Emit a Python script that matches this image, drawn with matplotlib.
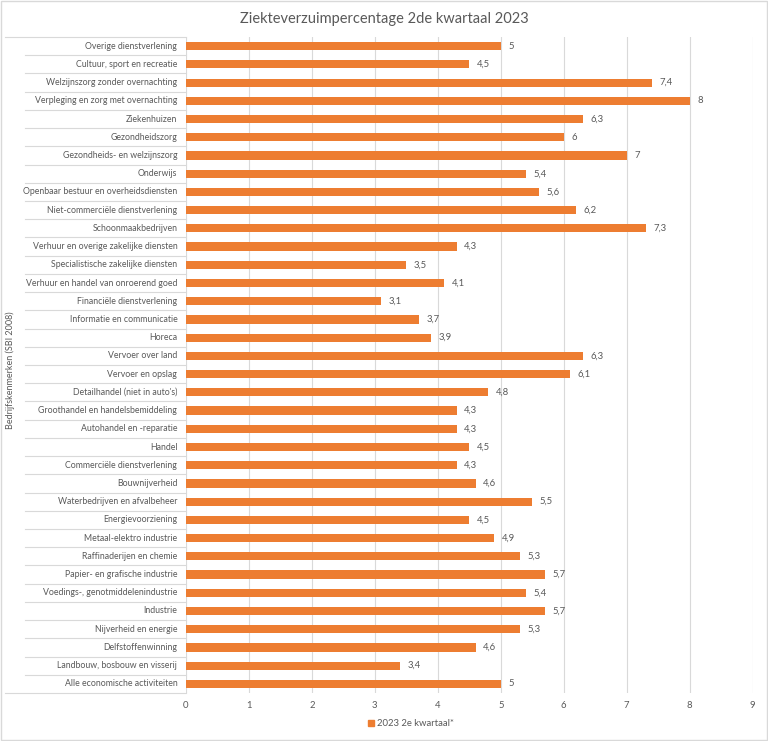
import matplotlib.pyplot as plt
import matplotlib.transforms as mtransforms
from matplotlib.patches import Rectangle

# categories listed top to bottom as in the chart
categories = [
    "Overige dienstverlening", "Cultuur, sport en recreatie",
    "Welzijnszorg zonder overnachting", "Verpleging en zorg met overnachting",
    "Ziekenhuizen", "Gezondheidszorg", "Gezondheids- en welzijnszorg",
    "Onderwijs", "Openbaar bestuur en overheidsdiensten",
    "Niet-commerciële dienstverlening", "Schoonmaakbedrijven",
    "Verhuur en overige zakelijke diensten", "Specialistische zakelijke diensten",
    "Verhuur en handel van onroerend goed", "Financiële dienstverlening",
    "Informatie en communicatie", "Horeca", "Vervoer over land",
    "Vervoer en opslag", "Detailhandel (niet in auto's)",
    "Groothandel en handelsbemiddeling", "Autohandel en -reparatie", "Handel",
    "Commerciële dienstverlening", "Bouwnijverheid",
    "Waterbedrijven en afvalbeheer", "Energievoorziening",
    "Metaal-elektro industrie", "Raffinaderijen en chemie",
    "Papier- en grafische industrie", "Voedings-, genotmiddelenindustrie",
    "Industrie", "Nijverheid en energie", "Delfstoffenwinning",
    "Landbouw, bosbouw en visserij", "Alle economische activiteiten",
]
values = [5, 4.5, 7.4, 8, 6.3, 6, 7, 5.4, 5.6, 6.2, 7.3, 4.3, 3.5, 4.1, 3.1,
          3.7, 3.9, 6.3, 6.1, 4.8, 4.3, 4.3, 4.5, 4.3, 4.6, 5.5, 4.5, 4.9,
          5.3, 5.7, 5.4, 5.7, 5.3, 4.6, 3.4, 5]
series_name = "2023 2e kwartaal*"
x_ticks = list(range(0, 10))

plt.rcParams['font.family'] = ['Lato', 'DejaVu Sans']
text_col = '#595959'
orange = '#ED7D31'

fig = plt.figure(figsize=(7.68, 7.41), dpi=100)
ax = fig.add_axes([0.242, 0.0648, 0.738, 0.8852])
fig.patches.append(Rectangle((0.001, 0.001), 0.998, 0.998, transform=fig.transFigure,
                             fill=False, edgecolor='#D9D9D9', linewidth=1))

n = len(categories)
ypos = list(range(n - 1, -1, -1))
ax.barh(ypos, values, height=0.45, color=orange, zorder=3)
for y, v in zip(ypos, values):
    ax.text(v + 0.12, y, f"{v:g}".replace('.', ','), va='center', ha='left',
            fontsize=6.8, color=text_col)

ax.set_xlim(0, 9)
ax.set_ylim(-0.5, n - 0.5)
ax.set_xticks(x_ticks)
ax.tick_params(axis='x', length=0, labelsize=6.8, labelcolor=text_col, pad=6)
ax.set_yticks([])
ax.grid(axis='x', color='#D9D9D9', linewidth=0.8, zorder=0)
for s in ax.spines.values():
    s.set_visible(False)

# category labels with separator lines (Excel multi-level axis look)
trans = mtransforms.blended_transform_factory(ax.transAxes, ax.transData)
for y, c in zip(ypos, categories):
    ax.text(-0.015, y, c, transform=trans, ha='right', va='center',
            fontsize=6.3, color=text_col)
for k in range(1, n):
    ax.plot([-0.284, 0], [k - 0.5, k - 0.5], transform=trans, color='#D9D9D9',
            linewidth=0.8, clip_on=False)
for yy in (-0.5, n - 0.5):
    ax.plot([-0.319, 0], [yy, yy], transform=trans, color='#D9D9D9',
            linewidth=0.8, clip_on=False)

fig.text(0.013, 0.5, "Bedrijfskenmerken (SBI 2008)", rotation=90, ha='center',
         va='center', fontsize=6.5, color=text_col)
fig.text(0.5, 0.975, "Ziekteverzuimpercentage 2de kwartaal 2023", ha='center',
         va='center', fontsize=10.5, color=text_col)

handle = Rectangle((0, 0), 1, 1, color=orange)
fig.legend([handle], [series_name], loc='center', bbox_to_anchor=(0.535, 0.023),
           frameon=False, fontsize=6.8, labelcolor=text_col, handlelength=0.6,
           handleheight=0.6, handletextpad=0.3)

fig.savefig('out.png', dpi=100)
